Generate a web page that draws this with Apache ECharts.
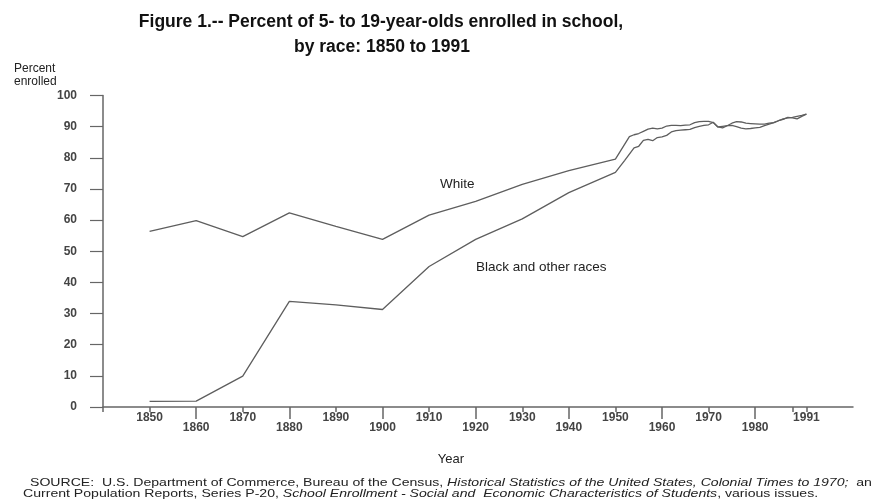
<!DOCTYPE html>
<html>
<head>
<meta charset="utf-8">
<script src="https://cdn.jsdelivr.net/npm/echarts@6/dist/echarts.min.js"></script>
<style>
html,body{margin:0;padding:0;background:#fff;}
#chart{width:871px;height:501px;}
</style>
</head>
<body>
<div id="chart"></div>
<script>
// Years and values
const whiteYears = [1850,1860,1870,1880,1890,1900,1910,1920,1930,1940,1950,1953,1954,1955,1956,1957,1958,1959,1960,1961,1962,1963,1964,1965,1966,1967,1968,1969,1970,1971,1972,1973,1974,1975,1976,1977,1978,1979,1980,1981,1982,1983,1984,1985,1986,1987,1988,1989,1990,1991];
const whiteValues = [56.4,59.8,54.7,62.3,58.0,53.8,61.6,66.0,71.5,75.9,79.6,86.8,87.4,87.8,88.5,89.2,89.5,89.3,89.5,90.2,90.4,90.4,90.3,90.5,90.6,91.3,91.6,91.7,91.7,91.3,89.9,89.6,90.3,91.1,91.6,91.5,91.1,91.0,90.9,90.8,90.8,91.1,91.3,91.9,92.3,93.0,92.8,92.5,93.3,94.0];
const blackYears = [1850,1860,1870,1880,1890,1900,1910,1920,1930,1940,1950,1952,1954,1955,1956,1957,1958,1959,1960,1961,1962,1963,1964,1965,1966,1967,1968,1969,1970,1971,1972,1973,1974,1975,1976,1977,1978,1979,1980,1981,1982,1983,1984,1985,1986,1987,1988,1989,1990,1991];
const blackValues = [1.8,1.9,9.9,33.9,32.8,31.3,45.1,53.8,60.4,68.8,75.3,79.2,83.2,83.7,85.6,85.9,85.5,86.5,86.7,87.2,88.3,88.7,88.9,89.0,89.1,89.7,90.1,90.4,90.6,91.4,89.9,90.1,90.3,90.4,90.0,89.5,89.3,89.4,89.6,89.8,90.3,90.8,91.3,91.9,92.5,92.8,93.0,93.3,93.6,94.0];

const xUpperTicks = [1840,1850,1870,1890,1910,1930,1950,1970,1988,1991];
const xUpperLabels = [1850,1870,1890,1910,1930,1950,1970,1991];
const xLowerTicks = [1860,1880,1900,1920,1940,1960,1980];

const FONT = '"Liberation Sans", Arial, sans-serif';
const chart = echarts.init(document.getElementById('chart'), null, {renderer:'canvas'});

const zip = (xs, ys) => xs.map((x,i)=>[x, ys[i]]);
const yearFmt = v => String(v);

const lineStyle = {color:'#5e5e5e', width:1.3};

chart.setOption({
  backgroundColor:'#fff',
  animation:false,
  textStyle:{fontFamily:FONT},
  title:[
    {text:'Figure 1.-- Percent of 5- to 19-year-olds enrolled in school,', left:376, top:8, textAlign:'center',
     textStyle:{fontFamily:FONT, fontSize:17.5, fontWeight:'bold', color:'#111'}},
    {text:'by race: 1850 to 1991', left:377, top:33, textAlign:'center',
     textStyle:{fontFamily:FONT, fontSize:17.5, fontWeight:'bold', color:'#111'}},
    {text:'Percent\nenrolled', left:9, top:57,
     textStyle:{fontFamily:FONT, fontSize:12, fontWeight:'normal', color:'#222', lineHeight:13}},
    {text:'White', left:435, top:172,
     textStyle:{fontFamily:FONT, fontSize:13.5, fontWeight:'normal', color:'#222'}},
    {text:'Black and other races', left:471, top:255,
     textStyle:{fontFamily:FONT, fontSize:13.5, fontWeight:'normal', color:'#222'}},
    {text:'Year', left:446, top:448, textAlign:'center',
     textStyle:{fontFamily:FONT, fontSize:13, fontWeight:'normal', color:'#222'}}
  ],
  graphic:[
    {type:'text', x:30, y:477, scaleX:1.28, silent:true,
     style:{text:'SOURCE:  U.S. Department of Commerce, Bureau of the Census, {i|Historical Statistics of the United States, Colonial Times to 1970;}  and',
       font:'11px "Liberation Sans", Arial, sans-serif', fill:'#222',
       rich:{i:{fontStyle:'italic', fontSize:11, fontFamily:FONT, fill:'#222'}}}},
    {type:'text', x:23, y:488, scaleX:1.28, silent:true,
     style:{text:'Current Population Reports, Series P-20, {i|School Enrollment - Social and  Economic Characteristics of Students}, various issues.',
       font:'11px "Liberation Sans", Arial, sans-serif', fill:'#222',
       rich:{i:{fontStyle:'italic', fontSize:11, fontFamily:FONT, fill:'#222'}}}}
  ],
  grid:{left:103, right:18, top:95.5, bottom:94, containLabel:false},
  xAxis:[
    {type:'value', min:1840, max:2001, position:'bottom',
     splitLine:{show:false},
     axisLine:{show:true, lineStyle:{color:'#666', width:1.5}},
     axisTick:{show:true, inside:false, length:5, customValues:xUpperTicks, lineStyle:{color:'#666', width:1.5}},
     axisLabel:{show:true, customValues:xUpperLabels, formatter:yearFmt, margin:5, fontFamily:FONT, fontSize:12, fontWeight:'bold', color:'#444'}
    },
    {type:'value', min:1840, max:2001, position:'bottom', gridIndex:0,
     splitLine:{show:false},
     axisLine:{show:false},
     axisTick:{show:true, inside:false, length:12, customValues:xLowerTicks, lineStyle:{color:'#666', width:1.5}},
     axisLabel:{show:true, customValues:xLowerTicks, formatter:yearFmt, margin:15, fontFamily:FONT, fontSize:12, fontWeight:'bold', color:'#444'}
    }
  ],
  yAxis:{type:'value', min:0, max:100, interval:10,
    splitLine:{show:false},
    axisLine:{show:true, lineStyle:{color:'#666', width:1.5}},
    axisTick:{show:true, inside:false, length:13, lineStyle:{color:'#666', width:1.2}},
    axisLabel:{margin:26, fontFamily:FONT, fontSize:12, fontWeight:'bold', color:'#444'}
  },
  series:[
    {name:'White', type:'line', xAxisIndex:0, data:zip(whiteYears, whiteValues), showSymbol:false, symbol:'none', lineStyle:lineStyle},
    {name:'Black and other races', type:'line', xAxisIndex:0, data:zip(blackYears, blackValues), showSymbol:false, symbol:'none', lineStyle:lineStyle}
  ]
});
</script>
</body>
</html>
